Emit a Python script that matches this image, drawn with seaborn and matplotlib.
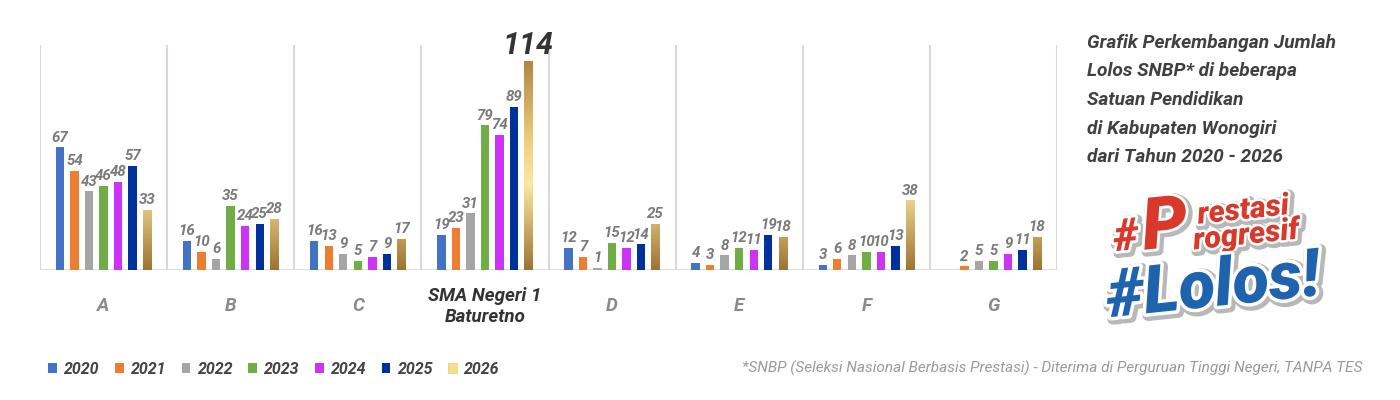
import numpy as np
import pandas as pd
import matplotlib
matplotlib.use("Agg")
import matplotlib.pyplot as plt
import seaborn as sns
from matplotlib.patches import Patch
from matplotlib.colors import LinearSegmentedColormap
import matplotlib.patheffects as pe

# ---------------- data ----------------
schools = ["A", "B", "C", "SMA Negeri 1\nBaturetno", "D", "E", "F", "G"]
years = ["2020", "2021", "2022", "2023", "2024", "2025", "2026"]
v2020 = [67, 16, 16, 19, 12, 4, 3, np.nan]
v2021 = [54, 10, 13, 23, 7, 3, 6, 2]
v2022 = [43, 6, 9, 31, 1, 8, 8, 5]
v2023 = [46, 35, 5, 79, 15, 12, 10, 5]
v2024 = [48, 24, 7, 74, 12, 11, 10, 9]
v2025 = [57, 25, 9, 89, 14, 19, 13, 11]
v2026 = [33, 28, 17, 114, 25, 18, 38, 18]
title_lines = ["Grafik Perkembangan Jumlah", "Lolos SNBP* di beberapa",
               "Satuan Pendidikan", "di Kabupaten Wonogiri", "dari Tahun 2020 - 2026"]
footnote = "*SNBP (Seleksi Nasional Berbasis Prestasi) - Diterima di Perguruan Tinggi Negeri, TANPA TES"

series = [v2020, v2021, v2022, v2023, v2024, v2025, v2026]
rows = []
for y, vals in zip(years, series):
    for s, v in zip(schools, vals):
        rows.append({"school": s, "year": y, "value": v})
df = pd.DataFrame(rows).dropna()

colors = ["#4472C4", "#ED7D31", "#A5A5A5", "#70AD47", "#CC33F5", "#00309C", "#E9C97A"]
palette = dict(zip(years, colors))

FONT = ["Roboto", "DejaVu Sans"]
plt.rcParams["font.family"] = FONT

fig = plt.figure(figsize=(14, 4), dpi=100)
fig.patch.set_facecolor("white")
ax = fig.add_axes([40 / 1400, 1 - 270 / 400, (1057 - 40) / 1400, 225 / 400])

sns.barplot(data=df, x="school", y="value", hue="year", order=schools,
            hue_order=years, palette=palette, width=0.8, gap=0.42,
            saturation=1, legend=False, ax=ax, errorbar=None)

ax.set_xlim(-0.5, len(schools) - 0.5)
ax.set_ylim(0, 123)
for s in ax.spines.values():
    s.set_visible(False)
ax.set_yticks([])
ax.set_ylabel("")
ax.set_xlabel("")
for i in range(len(schools) + 1):
    ax.axvline(i - 0.5, color="#D9D9D9", lw=1.5, zorder=0)
ax.axhline(0, color="#D9D9D9", lw=2, zorder=0.5)

# gold gradient for 2026 bars
gold = LinearSegmentedColormap.from_list(
    "gold", [(0, "#9E7332"), (0.38, "#FCE8A0"), (0.55, "#F3D27E"), (1, "#A47835")])
grad = np.linspace(0, 1, 256).reshape(-1, 1)
last = ax.containers[-1]
for p in last.patches:
    x0, w = p.get_x(), p.get_width()
    im = ax.imshow(grad, extent=(x0, x0 + w, 0, 123), origin="lower", cmap=gold,
                   aspect="auto", zorder=p.get_zorder())
    im.set_clip_path(p)
    p.set_facecolor("none")
ax.set_xlim(-0.5, len(schools) - 0.5)
ax.set_ylim(0, 123)

# value labels
for cont in ax.containers:
    labels = []
    for v in cont.datavalues:
        labels.append("" if v >= 100 else f"{int(v)}")
    ax.bar_label(cont, labels=labels, padding=2, color="#7A7A7A",
                 fontsize=10.8, fontweight="bold", fontstyle="italic")
    for p, v in zip(cont.patches, cont.datavalues):
        if v >= 100:
            ax.annotate(f"{int(v)}", (p.get_x() + p.get_width() / 2, v),
                        xytext=(0, 1), textcoords="offset points",
                        ha="center", va="bottom", fontsize=22,
                        fontweight="bold", fontstyle="italic", color="#333333")

# x tick labels
ax.set_xticks(range(len(schools)))
ax.set_xticklabels(schools)
ax.tick_params(axis="x", length=0, pad=26)
for lbl in ax.get_xticklabels():
    lbl.set_verticalalignment("center")
    lbl.set_fontstyle("italic")
    lbl.set_fontweight("bold")
    lbl.set_fontsize(13.5)
    lbl.set_linespacing(1.2)
    if "SMA" in lbl.get_text():
        lbl.set_color("#333333")
    else:
        lbl.set_color("#8A8A8A")

# legend
handles = [Patch(facecolor=c, edgecolor="none") for c in colors[:-1]]
handles.append(Patch(facecolor="#F6DE8C", edgecolor="#E8CB72", lw=0.5))
fig.legend(handles, years, loc="center left", bbox_to_anchor=(34 / 1400, 1 - 369 / 400),
           ncol=7, frameon=False, handlelength=0.55, handleheight=0.55,
           handletextpad=0.45, columnspacing=0.95,
           prop={"family": FONT, "weight": "bold", "style": "italic", "size": 11.5},
           labelcolor="#444444")

# footnote
fig.text(1362 / 1400, 1 - 368 / 400, footnote, ha="right", va="center",
         fontsize=11.1, fontstyle="italic", color="#9A9A9A")

# title block
for k, line in enumerate(title_lines):
    fig.text(1087 / 1400, 1 - (43 + 28.5 * k) / 400, line, ha="left", va="center",
             fontsize=13.8, fontweight="bold", fontstyle="italic", color="#404040")

# logo
red = "#D8392B"
blue = "#1F62AD"
def fx(lw):
    return [pe.Stroke(linewidth=lw + 3, foreground="#B8B8B8", offset=(1.5, -1.5)),
            pe.Stroke(linewidth=lw, foreground="white"), pe.Normal()]

def logo(x, y, s, size, color, lw=4, rot=6):
    fig.text(x / 1400, 1 - y / 400, s, ha="center", va="center", fontsize=size,
             fontweight="black", fontstyle="italic", color=color, rotation=rot,
             path_effects=fx(lw))

logo(1126, 238, "#", 32, red)
logo(1165, 228, "P", 52, red)
logo(1243, 210, "restasi", 22, red, lw=3.5)
logo(1246, 235, "rogresif", 22, red, lw=3.5)
logo(1213, 288, "#Lolos!", 48, blue, lw=5)

fig.savefig("out.png", dpi=100, facecolor="white")
